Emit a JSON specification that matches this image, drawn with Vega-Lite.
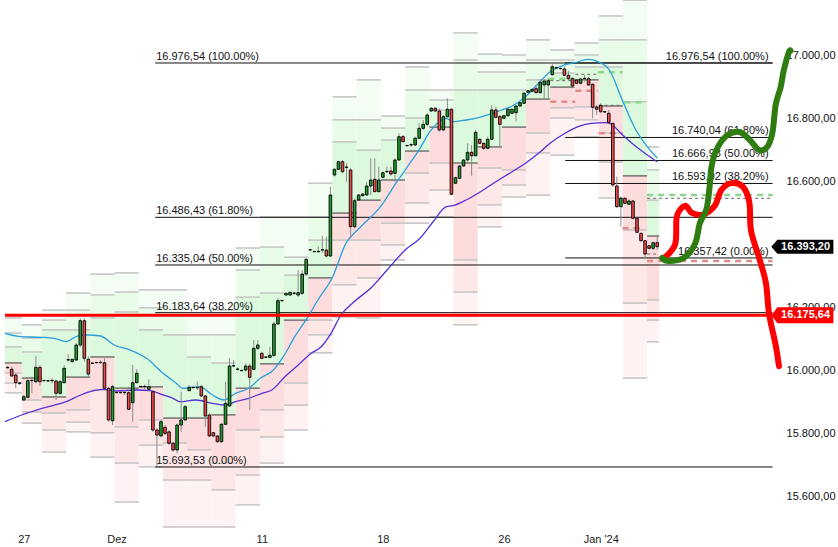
{
"$schema": "https://vega.github.io/schema/vega-lite/v6.json",
"width": 838, "height": 528,
"autosize": {"type": "none"},
"padding": {"left": 0, "top": 0, "right": 0, "bottom": 19},
"background": "white",
"config": {"view": {"stroke": null}, "font": "Liberation Sans"},
"datasets": {
"candles": [
{"t":0,"o":16008.9,"h":16014.3,"l":16004.7,"c":16009.9},
{"t":1,"o":16003.8,"h":16012.0,"l":15980.3,"c":15982.5},
{"t":2,"o":15985.7,"h":15991.1,"l":15943.4,"c":15961.2},
{"t":3,"o":15959.3,"h":15963.4,"l":15953.9,"c":15960.3},
{"t":4,"o":15906.3,"h":15922.2,"l":15904.1,"c":15916.7},
{"t":5,"o":15914.9,"h":15972.0,"l":15911.7,"c":15967.6},
{"t":6,"o":15967.6,"h":15980.3,"l":15927.6,"c":15968.6},
{"t":7,"o":15964.4,"h":16046.0,"l":15959.3,"c":16010.1},
{"t":8,"o":16010.1,"h":16017.4,"l":15950.7,"c":15964.4},
{"t":9,"o":15967.6,"h":15970,"l":15965,"c":15968.6},
{"t":10,"o":15966.6,"h":15969,"l":15964,"c":15967.6},
{"t":11,"o":15967.6,"h":15975.2,"l":15959.3,"c":15968.6},
{"t":12,"o":15966.6,"h":15969.8,"l":15906.3,"c":15927.6},
{"t":13,"o":15927.6,"h":15969.8,"l":15922.2,"c":15964.4},
{"t":14,"o":15961.2,"h":16017.4,"l":15959.3,"c":16006.9},
{"t":15,"o":16033.3,"h":16052.4,"l":16027.9,"c":16034.3},
{"t":16,"o":16027.9,"h":16037,"l":16026,"c":16035.5},
{"t":17,"o":16033.3,"h":16088.3,"l":16030.1,"c":16080.9},
{"t":18,"o":16080.9,"h":16165.7,"l":16075.5,"c":16158.1},
{"t":19,"o":16158.1,"h":16165.7,"l":16027.9,"c":16038.7},
{"t":20,"o":16035.5,"h":16043.8,"l":15980.3,"c":15988.8},
{"t":21,"o":16022.8,"h":16025,"l":16020,"c":16023.8},
{"t":22,"o":16024.7,"h":16027,"l":16022,"c":16025.7},
{"t":23,"o":16024.7,"h":16033.3,"l":16022.8,"c":16025.7},
{"t":24,"o":16024.7,"h":16038.7,"l":15940.3,"c":15943.4},
{"t":25,"o":15943.4,"h":15948.5,"l":15837.4,"c":15842.8},
{"t":26,"o":15840.5,"h":15953.9,"l":15826.9,"c":15948.5},
{"t":27,"o":15929.5,"h":15932,"l":15927,"c":15930.5},
{"t":28,"o":15929.5,"h":15932,"l":15927,"c":15930.5},
{"t":29,"o":15929.5,"h":15938.0,"l":15922.2,"c":15930.5},
{"t":30,"o":15929.5,"h":15948.5,"l":15874.5,"c":15876.7},
{"t":31,"o":15897.7,"h":16017.4,"l":15837.4,"c":15961.2},
{"t":32,"o":15961.2,"h":16003.8,"l":15959.3,"c":15991.1},
{"t":33,"o":15948.5,"h":15951,"l":15946,"c":15949.5},
{"t":34,"o":15948.5,"h":15956.1,"l":15940.3,"c":15949.5},
{"t":35,"o":15940.3,"h":15972.0,"l":15935.8,"c":15948.5},
{"t":36,"o":15932.6,"h":15938.0,"l":15805.6,"c":15811.0},
{"t":37,"o":15811.0,"h":15816.4,"l":15693.53,"c":15795.1},
{"t":38,"o":15792.0,"h":15842.8,"l":15789.7,"c":15837.4},
{"t":39,"o":15819.6,"h":15826.9,"l":15795.1,"c":15800.5},
{"t":40,"o":15805.0,"h":15811.0,"l":15763.4,"c":15768.8},
{"t":41,"o":15768.8,"h":15773.9,"l":15742.1,"c":15747.5},
{"t":42,"o":15747.5,"h":15832.3,"l":15737.0,"c":15826.9},
{"t":43,"o":15826.9,"h":15932.6,"l":15805.6,"c":15842.8},
{"t":44,"o":15842.8,"h":15890.4,"l":15840.5,"c":15885.0},
{"t":45,"o":15935.8,"h":15953.9,"l":15934.9,"c":15946.6},
{"t":46,"o":15945.3,"h":15948,"l":15943,"c":15946.3},
{"t":47,"o":15945.3,"h":15964.4,"l":15938.0,"c":15946.3},
{"t":48,"o":15948.5,"h":15953.9,"l":15916.7,"c":15919.0},
{"t":49,"o":15919.0,"h":15922.2,"l":15821.5,"c":15855.5},
{"t":50,"o":15858.7,"h":15864.0,"l":15789.7,"c":15792.0},
{"t":51,"o":15802.4,"h":15805,"l":15790,"c":15792.0},
{"t":52,"o":15792.0,"h":15795,"l":15771,"c":15773.9},
{"t":53,"o":15773.9,"h":15832,"l":15771,"c":15829.1},
{"t":54,"o":15829.1,"h":15964.4,"l":15826.9,"c":15895.8},
{"t":55,"o":15887.2,"h":16038.7,"l":15885.0,"c":16014.3},
{"t":56,"o":16014.3,"h":16033.3,"l":16010.1,"c":16015.3},
{"t":57,"o":16003.8,"h":16010.1,"l":15999.3,"c":16004.8},
{"t":58,"o":15999.3,"h":16002,"l":15997,"c":16000.3},
{"t":59,"o":16001.6,"h":16022.8,"l":15996.2,"c":16014.3},
{"t":60,"o":16014.3,"h":16022.8,"l":15874.5,"c":15978.4},
{"t":61,"o":16003.8,"h":16096.8,"l":16001.6,"c":16070.5},
{"t":62,"o":16070.5,"h":16096.8,"l":16065.1,"c":16080.9},
{"t":63,"o":16054.6,"h":16058,"l":16036,"c":16038.7},
{"t":64,"o":16041.9,"h":16044,"l":16039,"c":16042.9},
{"t":65,"o":16041.9,"h":16075.5,"l":16038.7,"c":16048.2},
{"t":66,"o":16048.2,"h":16154.9,"l":16043.8,"c":16147.6},
{"t":67,"o":16147.6,"h":16229.2,"l":16144.5,"c":16221.6},
{"t":68,"o":16221.6,"h":16224,"l":16219,"c":16222.6},
{"t":69,"o":16239.7,"h":16247,"l":16238,"c":16245.1},
{"t":70,"o":16239.7,"h":16250,"l":16238,"c":16248.3},
{"t":71,"o":16245.1,"h":16250.2,"l":16239.7,"c":16246.1},
{"t":72,"o":16239.7,"h":16319.1,"l":16234.3,"c":16247.0},
{"t":73,"o":16245.1,"h":16319.1,"l":16239.7,"c":16306.4},
{"t":74,"o":16306.4,"h":16356.3,"l":16303.3,"c":16353.1},
{"t":75,"o":16382.6,"h":16385,"l":16380,"c":16383.6},
{"t":76,"o":16377.3,"h":16380,"l":16375,"c":16378.3},
{"t":77,"o":16377.3,"h":16393.1,"l":16374.1,"c":16378.3},
{"t":78,"o":16382.6,"h":16427.1,"l":16374.1,"c":16383.6},
{"t":79,"o":16382.6,"h":16424.9,"l":16359.5,"c":16363.6},
{"t":80,"o":16363.6,"h":16583.7,"l":16360.0,"c":16557.3},
{"t":81,"o":16620.8,"h":16642.1,"l":16615.4,"c":16638.9},
{"t":82,"o":16638.9,"h":16666.2,"l":16636.7,"c":16663.1},
{"t":83,"o":16663.1,"h":16668.5,"l":16626.2,"c":16631.3},
{"t":84,"o":16645.3,"h":16658.0,"l":16599.6,"c":16646.3},
{"t":85,"o":16636.7,"h":16642.1,"l":16419.8,"c":16456.6},
{"t":86,"o":16456.6,"h":16546.8,"l":16451.6,"c":16539.2},
{"t":87,"o":16541.4,"h":16560,"l":16539,"c":16557.3},
{"t":88,"o":16555.1,"h":16563,"l":16553,"c":16560.5},
{"t":89,"o":16557.3,"h":16599.6,"l":16555.1,"c":16585.9},
{"t":90,"o":16585.9,"h":16673.9,"l":16557.3,"c":16605.0},
{"t":91,"o":16607.2,"h":16673.9,"l":16567.8,"c":16567.8},
{"t":92,"o":16567.8,"h":16647.2,"l":16567.8,"c":16605.0},
{"t":93,"o":16613.5,"h":16631,"l":16611,"c":16628.1},
{"t":94,"o":16631.3,"h":16647.2,"l":16626.2,"c":16632.3},
{"t":95,"o":16633.5,"h":16647.2,"l":16618.6,"c":16624.0},
{"t":96,"o":16626.2,"h":16673.9,"l":16599.6,"c":16668.5},
{"t":97,"o":16668.5,"h":16753.3,"l":16666.2,"c":16742.5},
{"t":98,"o":16742.5,"h":16747.9,"l":16724.7,"c":16726.6},
{"t":99,"o":16713.9,"h":16716,"l":16711,"c":16714.9},
{"t":100,"o":16716.1,"h":16721.5,"l":16710.7,"c":16717.1},
{"t":101,"o":16716.1,"h":16742.5,"l":16712.9,"c":16737.4},
{"t":102,"o":16737.4,"h":16785.0,"l":16735.2,"c":16769.1},
{"t":103,"o":16769.1,"h":16795.5,"l":16763.7,"c":16781.8},
{"t":104,"o":16781.8,"h":16816.8,"l":16774.2,"c":16811.4},
{"t":105,"o":16824.1,"h":16836,"l":16821,"c":16832.7},
{"t":106,"o":16832.7,"h":16836,"l":16821,"c":16824.1},
{"t":107,"o":16824.1,"h":16832.7,"l":16758.3,"c":16763.7},
{"t":108,"o":16763.7,"h":16811.4,"l":16761.5,"c":16806.0},
{"t":109,"o":16806.0,"h":16864.4,"l":16804.1,"c":16829.5},
{"t":110,"o":16829.5,"h":16832.7,"l":16557.3,"c":16559.5},
{"t":111,"o":16594.5,"h":16615,"l":16592,"c":16612.3},
{"t":112,"o":16610.4,"h":16652,"l":16608,"c":16649.4},
{"t":113,"o":16649.4,"h":16671,"l":16647,"c":16668.5},
{"t":114,"o":16668.5,"h":16721.5,"l":16663.1,"c":16692.9},
{"t":115,"o":16692.9,"h":16716.1,"l":16618.6,"c":16682.1},
{"t":116,"o":16682.1,"h":16763.7,"l":16679.0,"c":16756.4},
{"t":117,"o":16734.2,"h":16737,"l":16719,"c":16721.5},
{"t":118,"o":16721.5,"h":16723.4,"l":16700.2,"c":16705.6},
{"t":119,"o":16705.6,"h":16742.5,"l":16702.5,"c":16734.2},
{"t":120,"o":16734.2,"h":16843.1,"l":16732.0,"c":16827.3},
{"t":121,"o":16827.3,"h":16837.7,"l":16800.9,"c":16804.1},
{"t":122,"o":16806.0,"h":16811.4,"l":16705.6,"c":16781.8},
{"t":123,"o":16800.9,"h":16812,"l":16798,"c":16809.2},
{"t":124,"o":16809.2,"h":16832.7,"l":16806.0,"c":16829.5},
{"t":125,"o":16816.8,"h":16832,"l":16814,"c":16829.5},
{"t":126,"o":16818.7,"h":16843.1,"l":16790.1,"c":16840.0},
{"t":127,"o":16840.0,"h":16853,"l":16838,"c":16850.4},
{"t":128,"o":16848.5,"h":16885.4,"l":16846.3,"c":16880.3},
{"t":129,"o":16883.5,"h":16891,"l":16881,"c":16888.6},
{"t":130,"o":16886.7,"h":16895,"l":16884,"c":16893.0},
{"t":131,"o":16894.9,"h":16906.7,"l":16880.3,"c":16882.2},
{"t":132,"o":16882.2,"h":16924.8,"l":16880.3,"c":16915.2},
{"t":133,"o":16906.7,"h":16924.8,"l":16859.0,"c":16919.4},
{"t":134,"o":16906.7,"h":16927.9,"l":16864.4,"c":16920.3},
{"t":135,"o":16939.4,"h":16976.54,"l":16937.5,"c":16964.8},
{"t":136,"o":16960.6,"h":16963,"l":16958,"c":16961.6},
{"t":137,"o":16958.4,"h":16961,"l":16956,"c":16959.4},
{"t":138,"o":16957.5,"h":16964.8,"l":16935.2,"c":16937.5},
{"t":139,"o":16937.5,"h":16952.1,"l":16922.5,"c":16926.7},
{"t":140,"o":16926.7,"h":16931.1,"l":16896.2,"c":16903.5},
{"t":141,"o":16922.5,"h":16925,"l":16909,"c":16912.1},
{"t":142,"o":16912.1,"h":16928,"l":16909,"c":16925.7},
{"t":143,"o":16926.7,"h":16938.4,"l":16917.1,"c":16927.7},
{"t":144,"o":16926.7,"h":16933.0,"l":16904.4,"c":16906.7},
{"t":145,"o":16908.9,"h":16912.1,"l":16800.9,"c":16835.8},
{"t":146,"o":16836.8,"h":16843.1,"l":16811.4,"c":16829.5},
{"t":147,"o":16842.2,"h":16848.5,"l":16816.8,"c":16821.9},
{"t":148,"o":16820.9,"h":16824,"l":16818,"c":16821.9},
{"t":149,"o":16816.8,"h":16827.3,"l":16785.0,"c":16786.9},
{"t":150,"o":16785.0,"h":16786.9,"l":16583.7,"c":16589.1},
{"t":151,"o":16585.9,"h":16615.4,"l":16515.1,"c":16520.2},
{"t":152,"o":16520.2,"h":16551.9,"l":16456.6,"c":16546.8},
{"t":153,"o":16546.8,"h":16550,"l":16528,"c":16531.0},
{"t":154,"o":16527.8,"h":16543.7,"l":16525.6,"c":16538.3},
{"t":155,"o":16538.3,"h":16541.4,"l":16480.1,"c":16483.3},
{"t":156,"o":16483.3,"h":16488.4,"l":16435.7,"c":16438.9},
{"t":157,"o":16435.7,"h":16437.6,"l":16409.0,"c":16412.2},
{"t":158,"o":16412.2,"h":16414.4,"l":16357.42,"c":16369.9},
{"t":159,"o":16396.3,"h":16399,"l":16385,"c":16388.0},
{"t":160,"o":16388.0,"h":16409.0,"l":16382.6,"c":16405.8},
{"t":161,"o":16405.8,"h":16424.9,"l":16382.6,"c":16393.2}
],
"days": [
{"t0":-0.7,"t1":3.5,"T":16167,"u2":16119,"u1":16075,"C":16024,"d1":15992,"d2":15960,"B":15929},
{"t0":3.5,"t1":8.5,"T":16145,"u2":16103,"u1":16059,"C":15976,"d1":15906,"d2":15868,"B":15833},
{"t0":8.5,"t1":14.5,"T":16192,"u2":16160,"u1":16129,"C":15916,"d1":15865,"d2":15811,"B":15741},
{"t0":14.5,"t1":20.5,"T":16246,"u2":16192,"u1":16129,"C":15979,"d1":15875,"d2":15836,"B":15805},
{"t0":20.5,"t1":26.5,"T":16306,"u2":16240,"u1":16167,"C":16043,"d1":15938,"d2":15802,"B":15725},
{"t0":26.5,"t1":32.5,"T":16310,"u2":16249,"u1":16186,"C":15944,"d1":15821,"d2":15706,"B":15582},
{"t0":32.5,"t1":38.5,"T":16256,"u2":16199,"u1":16129,"C":15948,"d1":15843,"d2":15763,"B":15694},
{"t0":38.5,"t1":44.5,"T":16256,"u2":16176,"u1":16113,"C":15849,"d1":15770,"d2":15652,"B":15503},
{"t0":44.5,"t1":50.5,"T":16176,"u2":16113,"u1":16043,"C":15849,"d1":15748,"d2":15652,"B":15503},
{"t0":50.5,"t1":56.5,"T":16192,"u2":16113,"u1":16024,"C":15859,"d1":15706,"d2":15621,"B":15503},
{"t0":56.5,"t1":62.5,"T":16389,"u2":16319,"u1":16233,"C":15944,"d1":15811,"d2":15668,"B":15573},
{"t0":62.5,"t1":68.5,"T":16488,"u2":16392,"u1":16246,"C":16021,"d1":15875,"d2":15789,"B":15706},
{"t0":68.5,"t1":74.5,"T":16488,"u2":16360,"u1":16303,"C":16160,"d1":15960,"d2":15890,"B":15811},
{"t0":74.5,"t1":80.5,"T":16595,"u2":16488,"u1":16414,"C":16294,"d1":16160,"d2":16113,"B":16056},
{"t0":80.5,"t1":86.5,"T":16869,"u2":16796,"u1":16726,"C":16500,"d1":16414,"d2":16272,"B":16170},
{"t0":86.5,"t1":92.5,"T":16923,"u2":16796,"u1":16700,"C":16541,"d1":16414,"d2":16294,"B":16167},
{"t0":92.5,"t1":98.5,"T":16808,"u2":16770,"u1":16732,"C":16605,"d1":16468,"d2":16399,"B":16351},
{"t0":98.5,"t1":104.5,"T":16964,"u2":16891,"u1":16802,"C":16697,"d1":16627,"d2":16532,"B":16468},
{"t0":104.5,"t1":110.5,"T":16891,"u2":16859,"u1":16827,"C":16773,"d1":16659,"d2":16573,"B":16488},
{"t0":110.5,"t1":116.5,"T":17072,"u2":16986,"u1":16891,"C":16659,"d1":16351,"d2":16249,"B":16145},
{"t0":116.5,"t1":122.5,"T":17005,"u2":16948,"u1":16891,"C":16710,"d1":16643,"d2":16526,"B":16456},
{"t0":122.5,"t1":128.5,"T":17002,"u2":16948,"u1":16891,"C":16773,"d1":16637,"d2":16589,"B":16551},
{"t0":128.5,"t1":134.5,"T":17050,"u2":16986,"u1":16923,"C":16862,"d1":16754,"d2":16691,"B":16557},
{"t0":134.5,"t1":140.5,"T":17018,"u2":16986,"u1":16945,"C":16900,"d1":16834,"d2":16802,"B":16684},
{"t0":140.5,"t1":146.5,"T":17040,"u2":17002,"u1":16964,"C":16923,"d1":16837,"d2":16796,"B":16742},
{"t0":146.5,"t1":152.5,"T":17126,"u2":17050,"u1":16964,"C":16840,"d1":16754,"d2":16662,"B":16548},
{"t0":152.5,"t1":158.5,"T":17176,"u2":17050,"u1":16853,"C":16618,"d1":16446,"d2":16214,"B":15976},
{"t0":158.5,"t1":161.5,"T":16710,"u2":16637,"u1":16541,"C":16427,"d1":16224,"d2":16160,"B":16091}
],
"ma": [
{"s":"b","t":-0.66,"v":16118.1},{"s":"b","t":3.43,"v":16107.3},{"s":"b","t":8.47,"v":16105.4},{"s":"b","t":11.58,"v":16102.2},{"s":"b","t":14.45,"v":16091.4},{"s":"b","t":17.29,"v":16109.5},{"s":"b","t":19.74,"v":16112.7},{"s":"b","t":23.02,"v":16109.5},{"s":"b","t":26.45,"v":16080.9},{"s":"b","t":30.37,"v":16065.1},{"s":"b","t":34.43,"v":16038.7},{"s":"b","t":38.53,"v":15991.1},{"s":"b","t":41.78,"v":15959.3},{"s":"b","t":43.42,"v":15943.4},{"s":"b","t":47.51,"v":15948.5},{"s":"b","t":50.77,"v":15922.2},{"s":"b","t":53.64,"v":15906.3},{"s":"b","t":56.48,"v":15927.6},{"s":"b","t":59.76,"v":15943.4},{"s":"b","t":62.6,"v":15975.2},{"s":"b","t":65.88,"v":16001.6},{"s":"b","t":68.33,"v":16043.8},{"s":"b","t":71.17,"v":16107.3},{"s":"b","t":74.46,"v":16170.8},{"s":"b","t":76.9,"v":16223.9},{"s":"b","t":80.58,"v":16297.9},{"s":"b","t":83.84,"v":16403.9},{"s":"b","t":86.7,"v":16446.2},{"s":"b","t":92.41,"v":16520.2},{"s":"b","t":96.5,"v":16599.6},{"s":"b","t":98.53,"v":16636.7},{"s":"b","t":102.21,"v":16705.6},{"s":"b","t":104.66,"v":16758.3},{"s":"b","t":108.74,"v":16800.9},{"s":"b","t":110.36,"v":16790.1},{"s":"b","t":113.64,"v":16795.5},{"s":"b","t":116.9,"v":16804.1},{"s":"b","t":120.16,"v":16816.8},{"s":"b","t":122.46,"v":16827.3},{"s":"b","t":125.05,"v":16840.0},{"s":"b","t":128.34,"v":16869.5},{"s":"b","t":131.59,"v":16912.1},{"s":"b","t":134.46,"v":16948.9},{"s":"b","t":138.13,"v":16970.2},{"s":"b","t":140.58,"v":16977.5},{"s":"b","t":143.84,"v":16988.3},{"s":"b","t":146.29,"v":16980.7},{"s":"b","t":149.16,"v":16954.3},{"s":"b","t":152.0,"v":16869.5},{"s":"b","t":155.28,"v":16774.2},{"s":"b","t":158.54,"v":16710.7},{"s":"b","t":160.99,"v":16674.8},
{"s":"p","t":-0.66,"v":15837.4},{"s":"p","t":3.43,"v":15858.7},{"s":"p","t":8.47,"v":15879.9},{"s":"p","t":14.45,"v":15900.9},{"s":"p","t":18.12,"v":15922.2},{"s":"p","t":21.38,"v":15935.8},{"s":"p","t":23.83,"v":15940.3},{"s":"p","t":27.09,"v":15934.9},{"s":"p","t":31.99,"v":15938.0},{"s":"p","t":35.27,"v":15935.8},{"s":"p","t":38.53,"v":15922.2},{"s":"p","t":40.98,"v":15911.7},{"s":"p","t":42.62,"v":15900.9},{"s":"p","t":46.68,"v":15906.3},{"s":"p","t":50.77,"v":15895.8},{"s":"p","t":54.03,"v":15890.4},{"s":"p","t":56.48,"v":15900.9},{"s":"p","t":59.76,"v":15911.7},{"s":"p","t":63.02,"v":15927.6},{"s":"p","t":65.47,"v":15938.0},{"s":"p","t":68.72,"v":15980.3},{"s":"p","t":72.01,"v":16017.4},{"s":"p","t":75.26,"v":16054.6},{"s":"p","t":77.71,"v":16075.5},{"s":"p","t":80.16,"v":16118.1},{"s":"p","t":82.61,"v":16176.2},{"s":"p","t":85.87,"v":16218.5},{"s":"p","t":89.96,"v":16261.0},{"s":"p","t":94.05,"v":16319.1},{"s":"p","t":98.53,"v":16382.6},{"s":"p","t":102.21,"v":16419.8},{"s":"p","t":105.46,"v":16472.5},{"s":"p","t":108.74,"v":16520.2},{"s":"p","t":110.36,"v":16523.3},{"s":"p","t":113.64,"v":16541.4},{"s":"p","t":116.9,"v":16565.3},{"s":"p","t":120.99,"v":16599.6},{"s":"p","t":125.05,"v":16631.3},{"s":"p","t":128.34,"v":16658.0},{"s":"p","t":131.59,"v":16689.8},{"s":"p","t":134.46,"v":16721.5},{"s":"p","t":138.13,"v":16753.3},{"s":"p","t":141.39,"v":16774.2},{"s":"p","t":144.65,"v":16785.0},{"s":"p","t":147.94,"v":16786.9},{"s":"p","t":149.55,"v":16782.8},{"s":"p","t":152.0,"v":16753.3},{"s":"p","t":155.28,"v":16716.1},{"s":"p","t":158.54,"v":16684.4},{"s":"p","t":160.99,"v":16663.1}
],
"fib": [
{"side":"L","t0":36.57,"t1":189.6,"v":16976.54,"lbl":"16.976,54 (100.00%)"},
{"side":"L","t0":36.57,"t1":189.6,"v":16486.43,"lbl":"16.486,43 (61.80%)"},
{"side":"L","t0":36.57,"t1":189.6,"v":16335.04,"lbl":"16.335,04 (50.00%)"},
{"side":"L","t0":36.57,"t1":189.6,"v":16183.64,"lbl":"16.183,64 (38.20%)"},
{"side":"L","t0":36.57,"t1":189.6,"v":15693.53,"lbl":"15.693,53 (0.00%)"},
{"side":"R","t0":138.2,"t1":189.6,"v":16976.54,"lbl":"16.976,54 (100.00%)"},
{"side":"R","t0":138.2,"t1":189.6,"v":16740.04,"lbl":"16.740,04 (61.80%)"},
{"side":"R","t0":138.2,"t1":189.6,"v":16666.98,"lbl":"16.666,98 (50.00%)"},
{"side":"R","t0":138.2,"t1":189.6,"v":16593.92,"lbl":"16.593,92 (38.20%)"},
{"side":"R","t0":138.2,"t1":189.6,"v":16357.42,"lbl":"16.357,42 (0.00%)"}
],
"lv": [
{"k":"g","t0":134.0,"t1":140.7,"v":16925.7},{"k":"g","t0":146.3,"t1":152.4,"v":16947.0},{"k":"g","t0":152.9,"t1":157.8,"v":16851.7},{"k":"g","t0":158.5,"t1":189.6,"v":16557.3},
{"k":"r","t0":134.5,"t1":140.7,"v":16853.6},{"k":"r","t0":140.7,"t1":146.3,"v":16888.6},{"k":"r","t0":146.5,"t1":152.4,"v":16753.3},{"k":"r","t0":152.4,"t1":157.8,"v":16451.6},{"k":"r","t0":158.5,"t1":189.6,"v":16347.7},
{"k":"k","t0":134.5,"t1":140.7,"v":16920.3},{"k":"k","t0":140.7,"t1":146.3,"v":16940.6},{"k":"k","t0":146.5,"t1":152.4,"v":16842.2},{"k":"k","t0":158.5,"t1":189.6,"v":16546.8},{"k":"k","t0":158.5,"t1":161.5,"v":16369.9}
],
"hand": [
{"s":"r","i":0,"t":162.62,"v":16356.9},{"s":"r","i":1,"t":165.46,"v":16401.1},{"s":"r","i":2,"t":165.88,"v":16489.7},{"s":"r","i":3,"t":167.91,"v":16523.0},{"s":"r","i":4,"t":169.55,"v":16500.8},{"s":"r","i":5,"t":172.42,"v":16495.4},{"s":"r","i":6,"t":175.26,"v":16523.0},{"s":"r","i":7,"t":176.9,"v":16572.9},{"s":"r","i":8,"t":179.35,"v":16595.1},{"s":"r","i":9,"t":182.22,"v":16584.0},{"s":"r","i":10,"t":183.84,"v":16534.1},{"s":"r","i":11,"t":184.25,"v":16445.5},{"s":"r","i":12,"t":186.28,"v":16356.9},{"s":"r","i":13,"t":187.93,"v":16279.4},{"s":"r","i":14,"t":188.74,"v":16179.7},{"s":"r","i":15,"t":190.38,"v":16080.0},{"s":"r","i":16,"t":191.19,"v":16013.6},
{"s":"g","i":0,"t":162.21,"v":16357.2},{"s":"g","i":1,"t":163.85,"v":16347.7},{"s":"g","i":2,"t":167.52,"v":16357.2},{"s":"g","i":3,"t":170.37,"v":16401.7},{"s":"g","i":4,"t":171.59,"v":16468.4},{"s":"g","i":5,"t":173.23,"v":16512.9},{"s":"g","i":6,"t":174.04,"v":16589.1},{"s":"g","i":7,"t":174.45,"v":16646.2},{"s":"g","i":8,"t":175.68,"v":16700.2},{"s":"g","i":9,"t":178.13,"v":16744.7},{"s":"g","i":10,"t":181.39,"v":16757.4},{"s":"g","i":11,"t":183.84,"v":16733.6},{"s":"g","i":12,"t":186.29,"v":16700.2},{"s":"g","i":13,"t":188.34,"v":16711.3},{"s":"g","i":14,"t":189.57,"v":16755.8},{"s":"g","i":15,"t":190.38,"v":16844.4},{"s":"g","i":16,"t":191.6,"v":16899.7},{"s":"g","i":17,"t":192.41,"v":16954.9},{"s":"g","i":18,"t":193.63,"v":17010.5},{"s":"g","i":19,"t":194.05,"v":17015.9}
],
"tags": [
{"k":"last","v":16393.2,"lbl":"16.393,20"},
{"k":"red","v":16175.64,"lbl":"16.175,64"}
]
},
"layer": [
{"data":{"name":"days"},"mark":{"type":"rect","color":"#f3fdf3"},
 "encoding":{
  "x":{"field":"t0","type":"quantitative","scale":{"domain":[-0.661,204.58],"nice":false,"zero":false},
   "axis":{"values":[4,27,63,93,123,147],"labelExpr":"datum.value==4?'27':datum.value==27?'Dez':datum.value==63?'11':datum.value==93?'18':datum.value==123?'26':\"Jan '24\"","ticks":false,"tickSize":0,"domain":false,"grid":false,"labelPadding":5,"labelFont":"Liberation Sans Narrow, Liberation Sans","labelFontSize":11,"labelColor":"#222","labelFlush":false,"labelOverlap":false,"title":null}},
  "x2":{"field":"t1"},
  "y":{"field":"T","type":"quantitative","scale":{"domain":[15499.8,17176.6],"nice":false,"zero":false},
   "axis":{"orient":"right","values":[15600,15800,16000,16200,16600,16800,17000],"labelExpr":"replace(replace(replace(format(datum.value, ',.2f'), ',', '#'), '.', ','), '#', '.')","ticks":false,"tickSize":0,"domain":false,"grid":false,"offset":-3,"labelPadding":0,"labelAlign":"right","labelFont":"Liberation Sans","labelFontSize":11,"labelColor":"#111","title":null}},
  "y2":{"field":"u2"}}},
{"data":{"name":"days"},"mark":{"type":"rect","color":"#e9fce9"},
 "encoding":{"x":{"field":"t0","type":"quantitative","scale":{"domain":[-0.661,204.58],"nice":false,"zero":false}},"x2":{"field":"t1"},
  "y":{"field":"u2","type":"quantitative","scale":{"domain":[15499.8,17176.6],"nice":false,"zero":false}},"y2":{"field":"u1"}}},
{"data":{"name":"days"},"mark":{"type":"rect","color":"#ddf9dd"},
 "encoding":{"x":{"field":"t0","type":"quantitative","scale":{"domain":[-0.661,204.58],"nice":false,"zero":false}},"x2":{"field":"t1"},
  "y":{"field":"u1","type":"quantitative","scale":{"domain":[15499.8,17176.6],"nice":false,"zero":false}},"y2":{"field":"C"}}},
{"data":{"name":"days"},"mark":{"type":"rect","color":"#fcdcdc"},
 "encoding":{"x":{"field":"t0","type":"quantitative","scale":{"domain":[-0.661,204.58],"nice":false,"zero":false}},"x2":{"field":"t1"},
  "y":{"field":"C","type":"quantitative","scale":{"domain":[15499.8,17176.6],"nice":false,"zero":false}},"y2":{"field":"d1"}}},
{"data":{"name":"days"},"mark":{"type":"rect","color":"#fde7e7"},
 "encoding":{"x":{"field":"t0","type":"quantitative","scale":{"domain":[-0.661,204.58],"nice":false,"zero":false}},"x2":{"field":"t1"},
  "y":{"field":"d1","type":"quantitative","scale":{"domain":[15499.8,17176.6],"nice":false,"zero":false}},"y2":{"field":"d2"}}},
{"data":{"name":"days"},"mark":{"type":"rect","color":"#fef2f2"},
 "encoding":{"x":{"field":"t0","type":"quantitative","scale":{"domain":[-0.661,204.58],"nice":false,"zero":false}},"x2":{"field":"t1"},
  "y":{"field":"d2","type":"quantitative","scale":{"domain":[15499.8,17176.6],"nice":false,"zero":false}},"y2":{"field":"B"}}},
{"data":{"name":"days"},"transform":[{"fold":["T","u2","u1","d1","d2","B"],"as":["lvl","val"]}],
 "mark":{"type":"rule","color":"#c4c4c4","strokeWidth":1.5},
 "encoding":{"x":{"field":"t0","type":"quantitative","scale":{"domain":[-0.661,204.58],"nice":false,"zero":false}},"x2":{"field":"t1"},
  "y":{"field":"val","type":"quantitative","scale":{"domain":[15499.8,17176.6],"nice":false,"zero":false}}}},
{"data":{"name":"days"},"mark":{"type":"rule","color":"#555555","strokeWidth":1.2},
 "encoding":{"x":{"field":"t0","type":"quantitative","scale":{"domain":[-0.661,204.58],"nice":false,"zero":false}},"x2":{"field":"t1"},
  "y":{"field":"C","type":"quantitative","scale":{"domain":[15499.8,17176.6],"nice":false,"zero":false}}}},
{"data":{"name":"lv"},"transform":[{"filter":"datum.k=='g'"}],"mark":{"type":"rule","color":"#8ed48e","strokeWidth":2.5,"strokeDash":[6,5]},
 "encoding":{"x":{"field":"t0","type":"quantitative","scale":{"domain":[-0.661,204.58],"nice":false,"zero":false}},"x2":{"field":"t1"},
  "y":{"field":"v","type":"quantitative","scale":{"domain":[15499.8,17176.6],"nice":false,"zero":false}}}},
{"data":{"name":"lv"},"transform":[{"filter":"datum.k=='r'"}],"mark":{"type":"rule","color":"#e08a8a","strokeWidth":2.5,"strokeDash":[6,5]},
 "encoding":{"x":{"field":"t0","type":"quantitative","scale":{"domain":[-0.661,204.58],"nice":false,"zero":false}},"x2":{"field":"t1"},
  "y":{"field":"v","type":"quantitative","scale":{"domain":[15499.8,17176.6],"nice":false,"zero":false}}}},
{"data":{"name":"lv"},"transform":[{"filter":"datum.k=='k'"}],"mark":{"type":"rule","color":"#666666","strokeWidth":1,"strokeDash":[3,3]},
 "encoding":{"x":{"field":"t0","type":"quantitative","scale":{"domain":[-0.661,204.58],"nice":false,"zero":false}},"x2":{"field":"t1"},
  "y":{"field":"v","type":"quantitative","scale":{"domain":[15499.8,17176.6],"nice":false,"zero":false}}}},
{"data":{"name":"fib"},"mark":{"type":"rule","color":"#111111","strokeWidth":1},
 "encoding":{"x":{"field":"t0","type":"quantitative","scale":{"domain":[-0.661,204.58],"nice":false,"zero":false}},"x2":{"field":"t1"},
  "y":{"field":"v","type":"quantitative","scale":{"domain":[15499.8,17176.6],"nice":false,"zero":false}}}},
{"data":{"name":"fib"},"transform":[{"filter":"datum.side=='L'"}],"mark":{"type":"text","align":"left","baseline":"alphabetic","dx":1,"dy":-3,"font":"Liberation Sans","fontSize":11,"color":"#111111"},
 "encoding":{"x":{"field":"t0","type":"quantitative","scale":{"domain":[-0.661,204.58],"nice":false,"zero":false}},
  "y":{"field":"v","type":"quantitative","scale":{"domain":[15499.8,17176.6],"nice":false,"zero":false}},"text":{"field":"lbl"}}},
{"data":{"name":"fib"},"transform":[{"filter":"datum.side=='R'"}],"mark":{"type":"text","align":"right","baseline":"alphabetic","dx":-4,"dy":-3,"font":"Liberation Sans","fontSize":11,"color":"#111111"},
 "encoding":{"x":{"field":"t1","type":"quantitative","scale":{"domain":[-0.661,204.58],"nice":false,"zero":false}},
  "y":{"field":"v","type":"quantitative","scale":{"domain":[15499.8,17176.6],"nice":false,"zero":false}},"text":{"field":"lbl"}}},
{"data":{"name":"ma"},"transform":[{"filter":"datum.s=='p'"}],"mark":{"type":"line","strokeWidth":1.3,"interpolate":"monotone","color":"#5430d6"},
 "encoding":{"x":{"field":"t","type":"quantitative","scale":{"domain":[-0.661,204.58],"nice":false,"zero":false}},
  "y":{"field":"v","type":"quantitative","scale":{"domain":[15499.8,17176.6],"nice":false,"zero":false}}}},
{"data":{"name":"ma"},"transform":[{"filter":"datum.s=='b'"}],"mark":{"type":"line","strokeWidth":1.3,"interpolate":"monotone","color":"#2a9fdc"},
 "encoding":{"x":{"field":"t","type":"quantitative","scale":{"domain":[-0.661,204.58],"nice":false,"zero":false}},
  "y":{"field":"v","type":"quantitative","scale":{"domain":[15499.8,17176.6],"nice":false,"zero":false}}}},
{"data":{"name":"candles"},"mark":{"type":"rule","color":"#8c8c8c","strokeWidth":1},
 "encoding":{"x":{"field":"t","type":"quantitative","scale":{"domain":[-0.661,204.58],"nice":false,"zero":false}},
  "y":{"field":"l","type":"quantitative","scale":{"domain":[15499.8,17176.6],"nice":false,"zero":false}},"y2":{"field":"h"}}},
{"data":{"name":"candles"},"mark":{"type":"bar","width":2.6,"stroke":"#000000","strokeWidth":0.9},
 "encoding":{"x":{"field":"t","type":"quantitative","scale":{"domain":[-0.661,204.58],"nice":false,"zero":false}},
  "y":{"field":"o","type":"quantitative","scale":{"domain":[15499.8,17176.6],"nice":false,"zero":false}},"y2":{"field":"c"},
  "fill":{"condition":{"test":"datum.c >= datum.o","value":"#1f9e2c"},"value":"#f04a4a"}}},
{"data":{"name":"tags"},"transform":[{"filter":"datum.k=='red'"}],"mark":{"type":"rule","color":"#ff0000","strokeWidth":3},
 "encoding":{"x":{"datum":-0.661,"type":"quantitative","scale":{"domain":[-0.661,204.58],"nice":false,"zero":false}},"x2":{"datum":190.3},
  "y":{"field":"v","type":"quantitative","scale":{"domain":[15499.8,17176.6],"nice":false,"zero":false}}}},
{"data":{"name":"hand"},"transform":[{"filter":"datum.s=='r'"}],"mark":{"type":"line","strokeWidth":6,"strokeCap":"round","strokeJoin":"round","interpolate":"cardinal","color":"#ff0000"},
 "encoding":{"x":{"field":"t","type":"quantitative","scale":{"domain":[-0.661,204.58],"nice":false,"zero":false}},
  "y":{"field":"v","type":"quantitative","scale":{"domain":[15499.8,17176.6],"nice":false,"zero":false}},
  "order":{"field":"i","type":"quantitative"}}},
{"data":{"name":"hand"},"transform":[{"filter":"datum.s=='g'"}],"mark":{"type":"line","strokeWidth":6,"strokeCap":"round","strokeJoin":"round","interpolate":"cardinal","color":"#2f7d10"},
 "encoding":{"x":{"field":"t","type":"quantitative","scale":{"domain":[-0.661,204.58],"nice":false,"zero":false}},
  "y":{"field":"v","type":"quantitative","scale":{"domain":[15499.8,17176.6],"nice":false,"zero":false}},
  "order":{"field":"i","type":"quantitative"}}},
{"data":{"name":"tags"},"transform":[{"filter":"datum.k=='last'"}],"mark":{"type":"point","shape":"M-1,0L-0.806,-0.226L1,-0.226L1,0.226L-0.806,0.226Z","size":3844,"filled":true,"opacity":1,"strokeWidth":0,"color":"#000000"},
 "encoding":{"x":{"datum":196.99,"type":"quantitative","scale":{"domain":[-0.661,204.58],"nice":false,"zero":false}},
  "y":{"field":"v","type":"quantitative","scale":{"domain":[15499.8,17176.6],"nice":false,"zero":false}}}},
{"data":{"name":"tags"},"transform":[{"filter":"datum.k=='red'"}],"mark":{"type":"point","shape":"M-1,0L-0.806,-0.258L1,-0.258L1,0.258L-0.806,0.258Z","size":3844,"filled":true,"opacity":1,"strokeWidth":0,"color":"#ff0000"},
 "encoding":{"x":{"datum":196.99,"type":"quantitative","scale":{"domain":[-0.661,204.58],"nice":false,"zero":false}},
  "y":{"field":"v","type":"quantitative","scale":{"domain":[15499.8,17176.6],"nice":false,"zero":false}}}},
{"data":{"name":"tags"},"mark":{"type":"text","align":"right","baseline":"middle","font":"Liberation Sans","fontSize":11,"fontWeight":"bold","color":"#ffffff"},
 "encoding":{"x":{"datum":203.85,"type":"quantitative","scale":{"domain":[-0.661,204.58],"nice":false,"zero":false}},
  "y":{"field":"v","type":"quantitative","scale":{"domain":[15499.8,17176.6],"nice":false,"zero":false}},"text":{"field":"lbl"}}}
]
}
